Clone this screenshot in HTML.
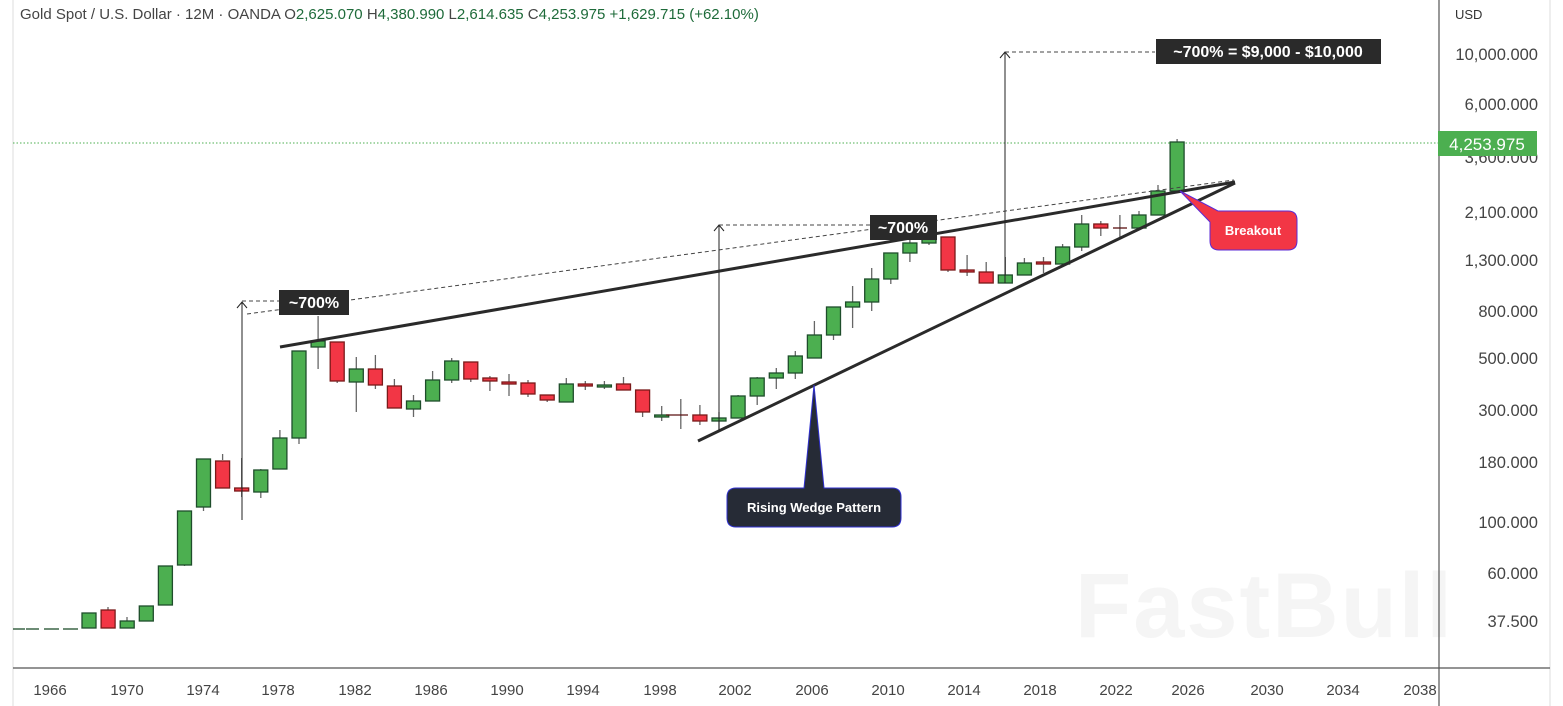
<!DOCTYPE html>
<html><head><meta charset="utf-8"><style>
html,body{margin:0;padding:0;background:#fff;width:1563px;height:706px;overflow:hidden}
svg{display:block;font-family:"Liberation Sans",sans-serif}
</style></head><body>
<svg width="1563" height="706" viewBox="0 0 1563 706" xmlns="http://www.w3.org/2000/svg">
<rect x="0" y="0" width="1563" height="706" fill="#fff"/>
<line x1="13" y1="0" x2="13" y2="706" stroke="#eeeeee" stroke-width="2"/>
<line x1="1550" y1="0" x2="1550" y2="706" stroke="#eeeeee" stroke-width="2"/>
<!-- watermark -->
<text x="1075" y="637" font-size="92" font-weight="bold" fill="#f5f5f5" letter-spacing="2">FastBull</text>
<!-- header -->
<text x="20" y="19" font-size="15" fill="#444">Gold Spot / U.S. Dollar · 12M · OANDA  O<tspan fill="#1e6b3a">2,625.070</tspan>  H<tspan fill="#1e6b3a">4,380.990</tspan>  L<tspan fill="#1e6b3a">2,614.635</tspan>  C<tspan fill="#1e6b3a">4,253.975</tspan> <tspan fill="#1e6b3a">+1,629.715 (+62.10%)</tspan></text>
<!-- axes -->
<line x1="1439" y1="0" x2="1439" y2="706" stroke="#555" stroke-width="1.2"/>
<line x1="13" y1="668" x2="1550" y2="668" stroke="#555" stroke-width="1.2"/>
<text x="1455" y="19" font-size="13" fill="#333">USD</text>
<g font-size="16.5" fill="#444" text-anchor="end">
<text x="1538" y="60">10,000.000</text>
<text x="1538" y="110">6,000.000</text>
<text x="1538" y="163">3,600.000</text>
<text x="1538" y="218">2,100.000</text>
<text x="1538" y="266">1,300.000</text>
<text x="1538" y="317">800.000</text>
<text x="1538" y="364">500.000</text>
<text x="1538" y="416">300.000</text>
<text x="1538" y="468">180.000</text>
<text x="1538" y="528">100.000</text>
<text x="1538" y="579">60.000</text>
<text x="1538" y="627">37.500</text>
</g>
<g font-size="15" fill="#444" text-anchor="middle">
<text x="50" y="695">1966</text><text x="127" y="695">1970</text><text x="203" y="695">1974</text><text x="278" y="695">1978</text><text x="355" y="695">1982</text><text x="431" y="695">1986</text><text x="507" y="695">1990</text><text x="583" y="695">1994</text><text x="660" y="695">1998</text><text x="735" y="695">2002</text><text x="812" y="695">2006</text><text x="888" y="695">2010</text><text x="964" y="695">2014</text><text x="1040" y="695">2018</text><text x="1116" y="695">2022</text><text x="1188" y="695">2026</text><text x="1267" y="695">2030</text><text x="1343" y="695">2034</text>
<text x="1420" y="695">2038</text>
</g>
<rect x="1440" y="676" width="109" height="30" fill="#fff"/>
<!-- current price line -->
<line x1="13" y1="143" x2="1439" y2="143" stroke="#4caf50" stroke-width="1" stroke-dasharray="1.5,2"/>
<rect x="1438" y="131" width="99" height="25" fill="#4caf50"/>
<text x="1487" y="150" font-size="17" fill="#fff" text-anchor="middle">4,253.975</text>
<!-- candles -->
<g stroke-width="1.3">
<g stroke="#1e4d2b"><line x1="13" y1="629" x2="25" y2="629"/><line x1="26" y1="629" x2="39" y2="629"/><line x1="44" y1="629" x2="59" y2="629"/><line x1="63" y1="629" x2="78" y2="629"/></g>
<g stroke="#666">
<line x1="108" y1="607" x2="108" y2="628"/><line x1="127" y1="617" x2="127" y2="628"/>
<line x1="184.5" y1="558" x2="184.5" y2="566"/><line x1="203.5" y1="499" x2="203.5" y2="511"/><line x1="222.6" y1="454" x2="222.6" y2="460"/>
<line x1="241.7" y1="458" x2="241.7" y2="497"/><line x1="260.8" y1="469" x2="260.8" y2="498"/><line x1="279.9" y1="430" x2="279.9" y2="469"/>
<line x1="299" y1="438" x2="299" y2="444"/><line x1="318.1" y1="316" x2="318.1" y2="369"/><line x1="337.2" y1="342" x2="337.2" y2="383"/>
<line x1="356.3" y1="357" x2="356.3" y2="412"/><line x1="375.4" y1="355" x2="375.4" y2="389"/><line x1="394.4" y1="379" x2="394.4" y2="408"/>
<line x1="413.5" y1="395" x2="413.5" y2="417"/><line x1="432.6" y1="371" x2="432.6" y2="401"/><line x1="451.7" y1="358" x2="451.7" y2="383"/>
<line x1="470.8" y1="362" x2="470.8" y2="382"/><line x1="489.9" y1="376" x2="489.9" y2="391"/>
<line x1="509" y1="374" x2="509" y2="396"/><line x1="528" y1="380" x2="528" y2="397"/><line x1="547.2" y1="395" x2="547.2" y2="402"/>
<line x1="566.3" y1="378" x2="566.3" y2="402"/><line x1="585.3" y1="381" x2="585.3" y2="390"/><line x1="604.4" y1="381" x2="604.4" y2="389"/>
<line x1="623.5" y1="377" x2="623.5" y2="390"/><line x1="642.6" y1="390" x2="642.6" y2="417"/><line x1="661.7" y1="406" x2="661.7" y2="421"/>
<line x1="680.8" y1="399" x2="680.8" y2="429"/><line x1="699.9" y1="405" x2="699.9" y2="425"/><line x1="719" y1="412" x2="719" y2="431"/>
<line x1="738.1" y1="395" x2="738.1" y2="418"/><line x1="757.2" y1="377" x2="757.2" y2="405"/><line x1="776.3" y1="368" x2="776.3" y2="389"/>
<line x1="795.3" y1="351" x2="795.3" y2="379"/><line x1="814.4" y1="321" x2="814.4" y2="358"/><line x1="833.5" y1="307" x2="833.5" y2="340"/>
<line x1="852.6" y1="286" x2="852.6" y2="328"/><line x1="871.7" y1="268" x2="871.7" y2="311"/><line x1="890.8" y1="253" x2="890.8" y2="284"/>
<line x1="909.9" y1="233" x2="909.9" y2="262"/><line x1="929" y1="233" x2="929" y2="245"/><line x1="948" y1="237" x2="948" y2="272"/>
<line x1="967.1" y1="255" x2="967.1" y2="276"/><line x1="986.2" y1="262" x2="986.2" y2="283"/><line x1="1005.3" y1="257" x2="1005.3" y2="283"/>
<line x1="1024.4" y1="258" x2="1024.4" y2="275"/><line x1="1043.5" y1="257" x2="1043.5" y2="273"/><line x1="1062.6" y1="244" x2="1062.6" y2="264"/>
<line x1="1081.7" y1="215" x2="1081.7" y2="251"/><line x1="1100.8" y1="221" x2="1100.8" y2="236"/><line x1="1119.9" y1="215" x2="1119.9" y2="238"/>
<line x1="1139" y1="211" x2="1139" y2="228"/><line x1="1158" y1="185" x2="1158" y2="215"/><line x1="1177.1" y1="139" x2="1177.1" y2="191"/>
</g>
<g fill="#4caf50" stroke="#1e4d2b">
<rect x="82" y="613" width="14" height="15"/><rect x="120.2" y="621" width="14" height="7"/><rect x="139.3" y="606" width="14" height="15"/>
<rect x="158.4" y="566" width="14" height="39"/><rect x="177.5" y="511" width="14" height="54"/><rect x="196.5" y="459" width="14" height="48"/>
<rect x="253.8" y="470" width="14" height="22"/><rect x="272.9" y="438" width="14" height="31"/><rect x="292" y="351" width="14" height="87"/>
<rect x="311.1" y="341" width="14" height="6"/><rect x="349.3" y="369" width="14" height="13"/><rect x="406.5" y="401" width="14" height="8"/>
<rect x="425.6" y="380" width="14" height="21"/><rect x="444.7" y="361" width="14" height="19"/><rect x="559.3" y="384" width="14" height="18"/>
<rect x="597.4" y="385" width="14" height="2"/><rect x="654.7" y="415" width="14" height="2"/><rect x="712" y="418" width="14" height="3"/>
<rect x="731.1" y="396" width="14" height="22"/><rect x="750.2" y="378" width="14" height="18"/><rect x="769.3" y="373" width="14" height="5"/>
<rect x="788.3" y="356" width="14" height="17"/><rect x="807.4" y="335" width="14" height="23"/><rect x="826.5" y="307" width="14" height="28"/>
<rect x="845.6" y="302" width="14" height="5"/><rect x="864.7" y="279" width="14" height="23"/><rect x="883.8" y="253" width="14" height="26"/>
<rect x="902.9" y="243" width="14" height="10"/><rect x="922" y="237" width="14" height="6"/><rect x="998.3" y="275" width="14" height="8"/>
<rect x="1017.4" y="263" width="14" height="12"/><rect x="1055.6" y="247" width="14" height="17"/><rect x="1074.7" y="224" width="14" height="23"/>
<rect x="1132" y="215" width="14" height="13"/><rect x="1151" y="191" width="14" height="24"/><rect x="1170.1" y="142" width="14" height="49"/>
</g>
<line x1="666" y1="415" x2="688" y2="415" stroke="#5a1010"/><line x1="1113" y1="228" x2="1127" y2="228" stroke="#5a1010"/>
<g fill="#f23645" stroke="#7a1a1a">
<rect x="101.1" y="610" width="14" height="18"/><rect x="215.6" y="461" width="14" height="27"/><rect x="234.7" y="488" width="14" height="3"/>
<rect x="330.2" y="342" width="14" height="39"/><rect x="368.4" y="369" width="14" height="16"/><rect x="387.4" y="386" width="14" height="22"/>
<rect x="463.8" y="362" width="14" height="17"/><rect x="482.9" y="378" width="14" height="3"/><rect x="502" y="382" width="14" height="2"/>
<rect x="521" y="383" width="14" height="11"/><rect x="540.2" y="395" width="14" height="5"/><rect x="578.3" y="384" width="14" height="2"/>
<rect x="616.5" y="384" width="14" height="6"/><rect x="635.6" y="390" width="14" height="22"/><rect x="692.9" y="415" width="14" height="6"/>
<rect x="941" y="237" width="14" height="33"/><rect x="960.1" y="270" width="14" height="2"/><rect x="979.2" y="272" width="14" height="11"/>
<rect x="1036.5" y="262" width="14" height="2"/><rect x="1093.8" y="224" width="14" height="4"/>
</g>
</g>
<!-- wedge lines -->
<line x1="280" y1="347" x2="1235" y2="182" stroke="#2a2a2a" stroke-width="3"/>
<line x1="698" y1="441" x2="1235" y2="183" stroke="#2a2a2a" stroke-width="3"/>
<line x1="247" y1="314" x2="1234" y2="180" stroke="#444" stroke-width="1" stroke-dasharray="4,3"/>
<!-- arrows -->
<g stroke="#222" stroke-width="1" fill="none">
<line x1="242" y1="520" x2="242" y2="302"/><polyline points="237,308 242,302 247,308"/>
<line x1="719" y1="431" x2="719" y2="225"/><polyline points="714,231 719,225 724,231"/>
<line x1="1005" y1="283" x2="1005" y2="52"/><polyline points="1000,58 1005,52 1010,58"/>
</g>
<g stroke="#444" stroke-width="1" stroke-dasharray="4,3">
<line x1="242" y1="301" x2="280" y2="301"/><line x1="719" y1="225" x2="870" y2="225"/><line x1="1005" y1="52" x2="1155" y2="52"/>
</g>
<!-- labels -->
<rect x="279" y="290" width="70" height="25" fill="#2a2a2a"/>
<text x="314" y="308" font-size="16" font-weight="bold" fill="#fff" text-anchor="middle">~700%</text>
<rect x="870" y="215" width="67" height="25" fill="#2a2a2a"/>
<text x="903" y="233" font-size="16" font-weight="bold" fill="#fff" text-anchor="middle">~700%</text>
<rect x="1156" y="39" width="225" height="25" fill="#2a2a2a"/>
<text x="1268" y="57" font-size="16" font-weight="bold" fill="#fff" text-anchor="middle">~700% = $9,000 - $10,000</text>
<!-- breakout callout -->
<path d="M1180,191 L1218,211 L1288,211 Q1297,211 1297,220 L1297,241 Q1297,250 1288,250 L1219,250 Q1210,250 1210,241 L1210,222 Z" fill="#f23645" stroke="#5b2bd6" stroke-width="1"/>
<text x="1253" y="235" font-size="13" font-weight="bold" fill="#fff" text-anchor="middle">Breakout</text>
<!-- rising wedge callout -->
<path d="M814,385 L824,488 L892,488 Q901,488 901,497 L901,518 Q901,527 892,527 L736,527 Q727,527 727,518 L727,497 Q727,488 736,488 L804,488 Z" fill="#262b36" stroke="#3030d0" stroke-width="1"/>
<text x="814" y="512" font-size="13" font-weight="bold" fill="#fff" text-anchor="middle">Rising Wedge Pattern</text>
</svg>
</body></html>
